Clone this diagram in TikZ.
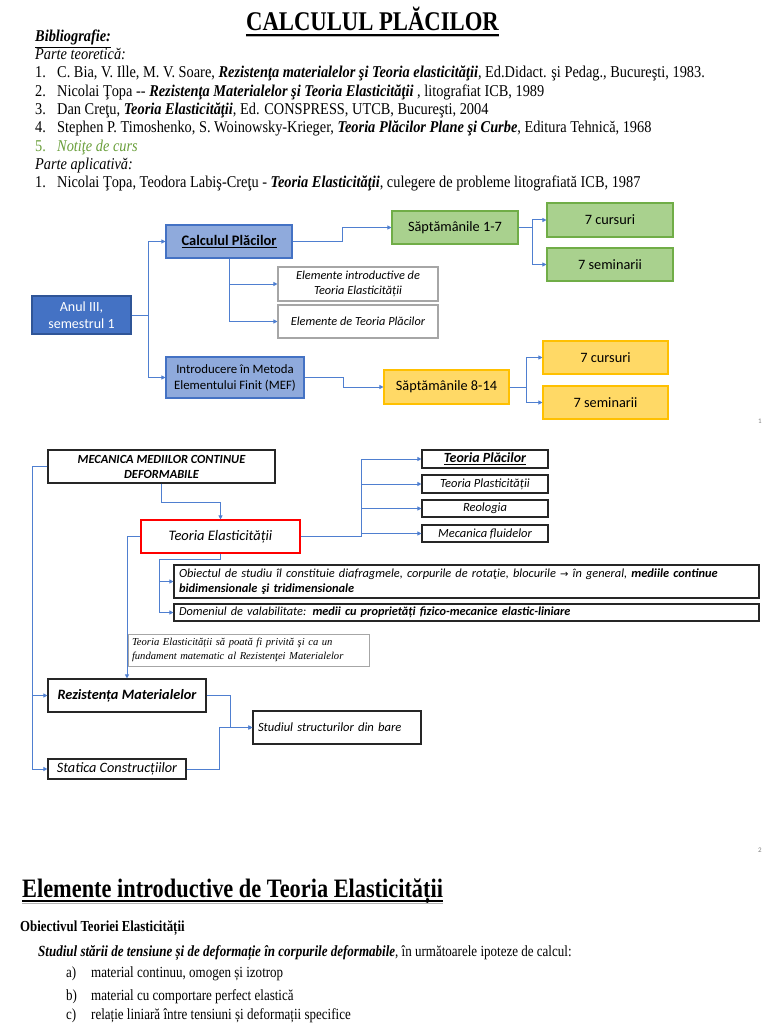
\documentclass[tikz,border=0pt]{standalone}
\usepackage{fontspec}
\setmainfont{Liberation Serif}
\newfontfamily\tn[FakeStretch=0.84]{Liberation Serif}
\newfontfamily\tnt[FakeStretch=0.87]{Liberation Serif}
\newfontfamily\cb{Carlito}
\newfontfamily\djv{DejaVu Sans}
\usetikzlibrary{arrows.meta,calc}
\definecolor{lineblue}{HTML}{4F7FD0}
\definecolor{darkblue}{HTML}{4472C4}
\definecolor{darkblueb}{HTML}{2F5597}
\definecolor{lightblue}{HTML}{8FAADC}
\definecolor{greenf}{HTML}{A9D18E}
\definecolor{greenb}{HTML}{70AD47}
\definecolor{yellowf}{HTML}{FFD966}
\definecolor{yellowb}{HTML}{FFC000}
\definecolor{grayb}{HTML}{A6A6A6}
\definecolor{darkb}{HTML}{262626}
\definecolor{notegreen}{HTML}{6A9F3B}
\begin{document}
\begin{tikzpicture}[x=1pt,y=-1pt,
  txt/.style={inner sep=0pt, anchor=base west, font=\tn\fontsize{15.5}{18.3}\selectfont},
  toptxt/.style={inner sep=0pt, anchor=base west, font=\tnt\fontsize{16.5}{18.3}\selectfont},
  conn/.style={draw=lineblue, line width=1pt, -{Triangle[length=4pt,width=4pt]}},
  line/.style={draw=lineblue, line width=1pt},
  bbox/.style={inner sep=1pt, align=center, line width=1.1pt},
  bluebox/.style={bbox, draw=darkblue, fill=lightblue, text=black},
  greenbox/.style={bbox, draw=greenb, fill=greenf, font=\cb\fontsize{14.3}{16}\selectfont},
  yellowbox/.style={bbox, draw=yellowb, fill=yellowf, font=\cb\fontsize{14.3}{16}\selectfont},
  graybox/.style={bbox, draw=grayb, fill=white, font=\cb\itshape\fontsize{12.3}{15}\selectfont},
  dbox/.style={bbox, draw=darkb, fill=white, line width=1.2pt},
  pnum/.style={inner sep=0pt, text=gray, font=\cb\fontsize{7}{8}\selectfont}
]
\useasboundingbox[fill=white] (0,0) rectangle (768,1024);

% ---------- header text ----------
\node[txt, anchor=base, font=\tn\bfseries\fontsize{27}{30}\selectfont] (title) at (372.5,31) {CALCULUL PLĂCILOR};
\draw[line width=1.4pt, black] ([yshift=-4pt]title.base west) -- ([yshift=-4pt]title.base east);
\draw[line width=1pt, gray!60] ([yshift=-6pt]title.base west) -- ([yshift=-6pt]title.base east);

\node[toptxt] (bib) at (35,42) {\textbf{\textit{\underline{Bibliografie:}}}};
\node[toptxt] (pt) at (35,59.5) {\textit{Parte teoretică:}};
\node[toptxt] (r1) at (35,78) {\makebox[22pt][l]{1.}C. Bia, V. Ille, M. V. Soare, \textbf{\textit{Rezistenţa materialelor şi Teoria elasticităţii}}, Ed.Didact. şi Pedag., Bucureşti, 1983.};
\node[toptxt] (r2) at (35,96.3) {\makebox[22pt][l]{2.}Nicolai Ţopa -- \textbf{\textit{Rezistenţa Materialelor şi Teoria Elasticităţii}} , litografiat ICB, 1989};
\node[toptxt] (r3) at (35,114.6) {\makebox[22pt][l]{3.}Dan Creţu, \textbf{\textit{Teoria Elasticităţii}}, Ed. CONSPRESS, UTCB, Bucureşti, 2004};
\node[toptxt] (r4) at (35,133) {\makebox[22pt][l]{4.}Stephen P. Timoshenko, S. Woinowsky-Krieger, \textbf{\textit{Teoria Plăcilor Plane şi Curbe}}, Editura Tehnică, 1968};
\node[toptxt, text=notegreen] (r5) at (35,151.3) {\makebox[22pt][l]{5.}\textit{Notiţe de curs}};
\node[toptxt] (pa) at (35,169.6) {\textit{Parte aplicativă:}};
\node[toptxt] (a1) at (35,188) {\makebox[22pt][l]{1.}Nicolai Ţopa, Teodora Labiş-Creţu - \textbf{\textit{Teoria Elasticităţii}}, culegere de probleme litografiată ICB, 1987};

% ---------- diagram 1 ----------
\node[bbox, draw=darkblueb, fill=darkblue, text=white, minimum width=99pt, minimum height=38pt,
  font=\cb\fontsize{14}{17}\selectfont] (anul) at (81.5,315) {Anul III,\\semestrul 1};
\node[bluebox, minimum width=126pt, minimum height=33pt, font=\cb\bfseries\fontsize{14.5}{16}\selectfont] (calc) at (229,241.5) {\underline{Calculul Plăcilor}};
\node[graybox, minimum width=160pt, minimum height=34pt] (el1) at (358,284) {Elemente introductive de\\Teoria Elasticității};
\node[graybox, minimum width=160pt, minimum height=33pt] (el2) at (358,321.5) {Elemente de Teoria Plăcilor};
\node[bluebox, minimum width=138pt, minimum height=41pt, font=\cb\fontsize{12.8}{16}\selectfont] (intro) at (235,377.5) {Introducere în Metoda\\Elementului Finit (MEF)};
\node[greenbox, minimum width=126pt, minimum height=33pt] (s17) at (455,227.5) {Săptămânile 1-7};
\node[greenbox, minimum width=126pt, minimum height=34pt] (c1) at (610,220) {7 cursuri};
\node[greenbox, minimum width=126pt, minimum height=33pt] (sem1) at (610,264.5) {7 seminarii};
\node[yellowbox, minimum width=125pt, minimum height=34pt] (s814) at (446.5,387) {Săptămânile 8-14};
\node[yellowbox, minimum width=125pt, minimum height=33pt] (c2) at (605.5,357.5) {7 cursuri};
\node[yellowbox, minimum width=125pt, minimum height=33pt] (sem2) at (605.5,402.5) {7 seminarii};

\draw[conn] (anul.east) -- ++(17,0) |- (calc.west);
\draw[conn] (anul.east) -- ++(17,0) |- (intro.west);
\draw[conn] (calc.east) -- ++(50,0) |- (s17.west);
\draw[conn] (calc.south) |- (el1.west);
\draw[conn] (calc.south) |- (el2.west);
\draw[conn] (intro.east) -- ++(39,0) |- (s814.west);
\draw[conn] (s17.east) -- ++(14,0) |- (c1.west);
\draw[conn] (s17.east) -- ++(14,0) |- (sem1.west);
\draw[conn] (s814.east) -- ++(17,0) |- (c2.west);
\draw[conn] (s814.east) -- ++(17,0) |- (sem2.west);

\node[pnum] (p1) at (760,421) {1};

% ---------- diagram 2 ----------
\node[dbox, minimum width=227pt, minimum height=33pt, font=\cb\bfseries\itshape\fontsize{12.4}{15}\selectfont] (mec) at (161.5,466.5) {MECANICA MEDIILOR CONTINUE\\DEFORMABILE};
\node[bbox, draw=red, fill=white, line width=1.2pt, minimum width=159pt, minimum height=33pt, font=\cb\itshape\fontsize{14.5}{16}\selectfont] (te) at (220.5,536.5) {Teoria Elasticității};
\node[dbox, inner sep=0pt, minimum width=126pt, minimum height=18pt, font=\cb\bfseries\itshape\fontsize{14}{15}\selectfont] (tp) at (485,459) {\underline{Teoria Plăcilor}};
\node[dbox, inner sep=0pt, minimum width=126pt, minimum height=18pt, font=\cb\itshape\fontsize{12.5}{14}\selectfont] (tpl) at (485,484) {Teoria Plasticității};
\node[dbox, inner sep=0pt, minimum width=126pt, minimum height=17pt, font=\cb\itshape\fontsize{12.5}{14}\selectfont] (reo) at (485,508.5) {Reologia};
\node[dbox, inner sep=0pt, minimum width=126pt, minimum height=17pt, font=\cb\itshape\fontsize{12.5}{14}\selectfont] (mf) at (485,533.5) {Mecanica fluidelor};
\node[dbox, inner sep=0pt, inner xsep=5pt, text width=575pt, minimum height=33pt, align=left, font=\cb\itshape\fontsize{12.4}{15.5}\selectfont] (ob) at (466.5,581.5) {Obiectul de studiu îl constituie diafragmele, corpurile de rotaţie, blocurile {\djv\fontsize{10}{12}\selectfont →} în general, \textbf{mediile continue}\\\textbf{bidimensionale şi tridimensionale}};
\node[dbox, inner sep=0pt, inner xsep=5pt, text width=575pt, minimum height=17pt, align=left, font=\cb\itshape\fontsize{12.3}{14}\selectfont] (dv) at (466.5,612.5) {Domeniul de valabilitate: \textbf{medii cu proprietăți fizico-mecanice elastic-liniare}};
\node[bbox, draw=grayb, fill=white, line width=1pt, inner sep=0pt, inner xsep=4pt, text width=233pt, minimum height=32pt, align=left, font=\itshape\fontsize{10.6}{13.5}\selectfont] (note) at (248.5,650) {Teoria Elasticității să poată fi privită şi ca un\\fundament matematic al Rezistenţei Materialelor};
\node[dbox, minimum width=158pt, minimum height=33pt, font=\cb\bfseries\itshape\fontsize{14.3}{16}\selectfont] (rm) at (127,695.5) {Rezistența Materialelor};
\node[dbox, inner sep=0pt, inner xsep=5pt, text width=158pt, minimum height=33pt, align=left, font=\cb\itshape\fontsize{12.6}{15}\selectfont] (sb) at (337,727.5) {Studiul structurilor din bare};
\node[dbox, inner sep=0pt, minimum width=138pt, minimum height=20pt, font=\cb\itshape\fontsize{14.3}{16}\selectfont] (sc) at (117,769) {Statica Construcțiilor};

\draw[conn] (mec.south) -- ++(0,19) -| (te.north);
\draw[conn] (mec.west) -- ++(-15,0) |- (rm.west);
\draw[conn] (mec.west) -- ++(-15,0) |- (sc.west);
\draw[conn] (te.west) -| (rm.north);
\coordinate (j) at ($(te.east)+(61,0)$);
\draw[line] (te.east) -- (j);
\draw[conn] (j) |- (tp.west);
\draw[conn] (j) |- (tpl.west);
\draw[conn] (j) |- (reo.west);
\draw[conn] (j) |- (mf.west);
\coordinate (k) at ($(ob.west)+(-14,0)$);
\draw[conn] (te.south) -- ++(0,6) -| (k) -- (ob.west);
\draw[conn] (k) |- (dv.west);
\draw[conn] (rm.east) -- ++(24,0) |- (sb.west);
\draw[conn] (sc.east) -- ++(33,0) |- (sb.west);

\node[pnum] (p2) at (760,850) {2};

% ---------- bottom text ----------
\node[txt, font=\tn\bfseries\fontsize{26.6}{30}\selectfont] (t2) at (22,897) {Elemente introductive de Teoria Elasticității};
\draw[line width=1.4pt, black] ([yshift=-4pt]t2.base west) -- ([yshift=-4pt]t2.base east);
\draw[line width=1pt, gray!60] ([yshift=-6pt]t2.base west) -- ([yshift=-6pt]t2.base east);
\node[txt, font=\tn\bfseries\fontsize{15.3}{18}\selectfont] (obt) at (20,931) {Obiectivul Teoriei Elasticității};
\node[txt] (st) at (38,956) {\textbf{\textit{Studiul stării de tensiune și de deformație în corpurile deformabile}}, în următoarele ipoteze de calcul:};
\node[txt] (ia) at (66,977.5) {\makebox[25pt][l]{a)}material continuu, omogen și izotrop};
\node[txt] (ib) at (66,1000.5) {\makebox[25pt][l]{b)}material cu comportare perfect elastică};
\node[txt] (ic) at (66,1019.5) {\makebox[25pt][l]{c)}relație liniară între tensiuni și deformații specifice};
\end{tikzpicture}
\end{document}
